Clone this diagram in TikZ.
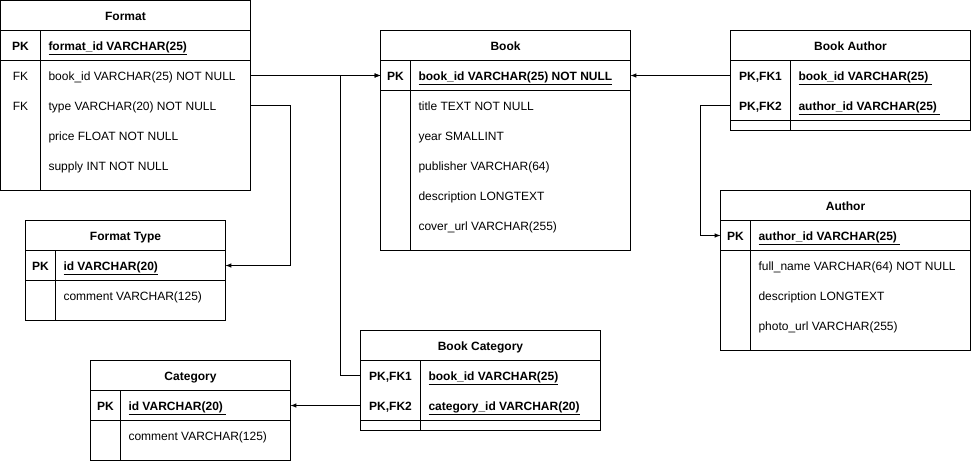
\documentclass[tikz,border=0pt]{standalone}
\usepackage{fontspec}
\setmainfont{Liberation Sans}
\usetikzlibrary{arrows,calc}

\newcommand{\basefont}{\fontsize{12}{14}\selectfont}

\tikzset{
    tbl/.style={draw, inner sep=0pt, outer sep=0pt, anchor=north west},
    txt/.style={inner sep=0pt, text height=10pt, text depth=1pt},
    ttl/.style={txt, font=\basefont\bfseries},
    key/.style={txt, font=\basefont\bfseries},
    fkey/.style={txt, font=\basefont},
    fld/.style={txt, anchor=west, font=\basefont},
    pkfld/.style={fld, font=\basefont\bfseries},
    link/.style={-latex}
}

\begin{document}
\begin{tikzpicture}[x=1pt, y=-1pt, line width=1pt]
        \useasboundingbox (0,0) rectangle (971,461);

        % Function to draw a table frame
        % #1 name, #2 top left, #3 width, #4 height, #5 key column width, #6 title
        \newcommand{\drawTable}[6]{
            \node[tbl, minimum width=#3pt, minimum height=#4pt] (#1) at (#2) {};
            \node[ttl] (#1Title) at ([yshift=-15pt]#1.north) {#6};
            \draw ([yshift=-30pt]#1.north west) -- ([yshift=-30pt]#1.north east);
            \draw ([xshift=#5pt, yshift=-30pt]#1.north west) -- ([xshift=#5pt]#1.south west);
        }
        % Function to draw a rule below the key rows
        \newcommand{\drawRule}[2]{
            \draw ([yshift=-#2pt]#1.north west) -- ([yshift=-#2pt]#1.north east);
        }

        % Format
        \drawTable{format}{0.5,0.5}{250}{190}{40}{Format}
        \drawRule{format}{60}
        \node[key] (fmtPK) at (20.5,45.5) {PK};
        \node[pkfld] (fmtId) at (48,45.5) {\underline{format\_id VARCHAR(25)}};
        \node[fkey] (fmtFK1) at (20.5,75.5) {FK};
        \node[fld] (fmtBook) at (48,75.5) {book\_id VARCHAR(25) NOT NULL};
        \node[fkey] (fmtFK2) at (20.5,105.5) {FK};
        \node[fld] (fmtType) at (48,105.5) {type VARCHAR(20) NOT NULL};
        \node[fld] (fmtPrice) at (48,135.5) {price FLOAT NOT NULL};
        \node[fld] (fmtSupply) at (48,165.5) {supply INT NOT NULL};

        % Book
        \drawTable{book}{380.5,30.5}{250}{220}{30}{Book}
        \drawRule{book}{60}
        \node[key] (bookPKKey) at (395.5,75.5) {PK};
        \node[pkfld] (bookPK) at (418,75.5) {\underline{book\_id VARCHAR(25) NOT NULL}};
        \node[fld] (bookTitle) at (418,105.5) {title TEXT NOT NULL};
        \node[fld] (bookYear) at (418,135.5) {year SMALLINT};
        \node[fld] (bookPub) at (418,165.5) {publisher VARCHAR(64)};
        \node[fld] (bookDesc) at (418,195.5) {description LONGTEXT};
        \node[fld] (bookCover) at (418,225.5) {cover\_url VARCHAR(255)};

        % Book Author
        \drawTable{bookAuthor}{730.5,30.5}{240}{100}{60}{Book Author}
        \drawRule{bookAuthor}{90}
        \node[key] (baKey1) at (760.5,75.5) {PK,FK1};
        \node[pkfld] (baBook) at (798,75.5) {\underline{book\_id VARCHAR(25)\ }};
        \node[key] (baKey2) at (760.5,105.5) {PK,FK2};
        \node[pkfld] (baAuthor) at (798,105.5) {\underline{author\_id VARCHAR(25)\ }};

        % Author
        \drawTable{author}{720.5,190.5}{250}{160}{30}{Author}
        \drawRule{author}{60}
        \node[key] (auKey) at (735.5,235.5) {PK};
        \node[pkfld] (auPK) at (758,235.5) {\underline{author\_id VARCHAR(25)\ }};
        \node[fld] (auName) at (758,265.5) {full\_name VARCHAR(64) NOT NULL};
        \node[fld] (auDesc) at (758,295.5) {description LONGTEXT};
        \node[fld] (auPhoto) at (758,325.5) {photo\_url VARCHAR(255)};

        % Format Type
        \drawTable{fmtTypeTbl}{25.5,220.5}{200}{100}{30}{Format Type}
        \drawRule{fmtTypeTbl}{60}
        \node[key] (ftKey) at (40.5,265.5) {PK};
        \node[pkfld] (ftPK) at (63,265.5) {\underline{id VARCHAR(20)}};
        \node[fld] (ftComment) at (63,295.5) {comment VARCHAR(125)};

        % Category
        \drawTable{category}{90.5,360.5}{200}{100}{30}{Category}
        \drawRule{category}{60}
        \node[key] (catKey) at (105.5,405.5) {PK};
        \node[pkfld] (catPK) at (128,405.5) {\underline{id VARCHAR(20)\ }};
        \node[fld] (catComment) at (128,435.5) {comment VARCHAR(125)};

        % Book Category
        \drawTable{bookCat}{360.5,330.5}{240}{100}{60}{Book Category}
        \drawRule{bookCat}{90}
        \node[key] (bcKey1) at (390.5,375.5) {PK,FK1};
        \node[pkfld] (bcBook) at (428,375.5) {\underline{book\_id VARCHAR(25)}};
        \node[key] (bcKey2) at (390.5,405.5) {PK,FK2};
        \node[pkfld] (bcCat) at (428,405.5) {\underline{category\_id VARCHAR(20)}};

        % relations
        \draw[link] (format.east |- fmtBook) -- (book.west |- bookPK);
        \draw[link] (bookCat.west |- bcBook) -- ++(-20,0) |- (book.west |- bookPK);
        \draw[link] (format.east |- fmtType) -- ++(40,0) |- (fmtTypeTbl.east |- ftPK);
        \draw[link] (bookAuthor.west |- baBook) -- (book.east |- bookPK);
        \draw[link] (bookAuthor.west |- baAuthor) -- ++(-30,0) |- (author.west |- auPK);
        \draw[link] (bookCat.west |- bcCat) -- (category.east |- catPK);

\end{tikzpicture}
\end{document}
